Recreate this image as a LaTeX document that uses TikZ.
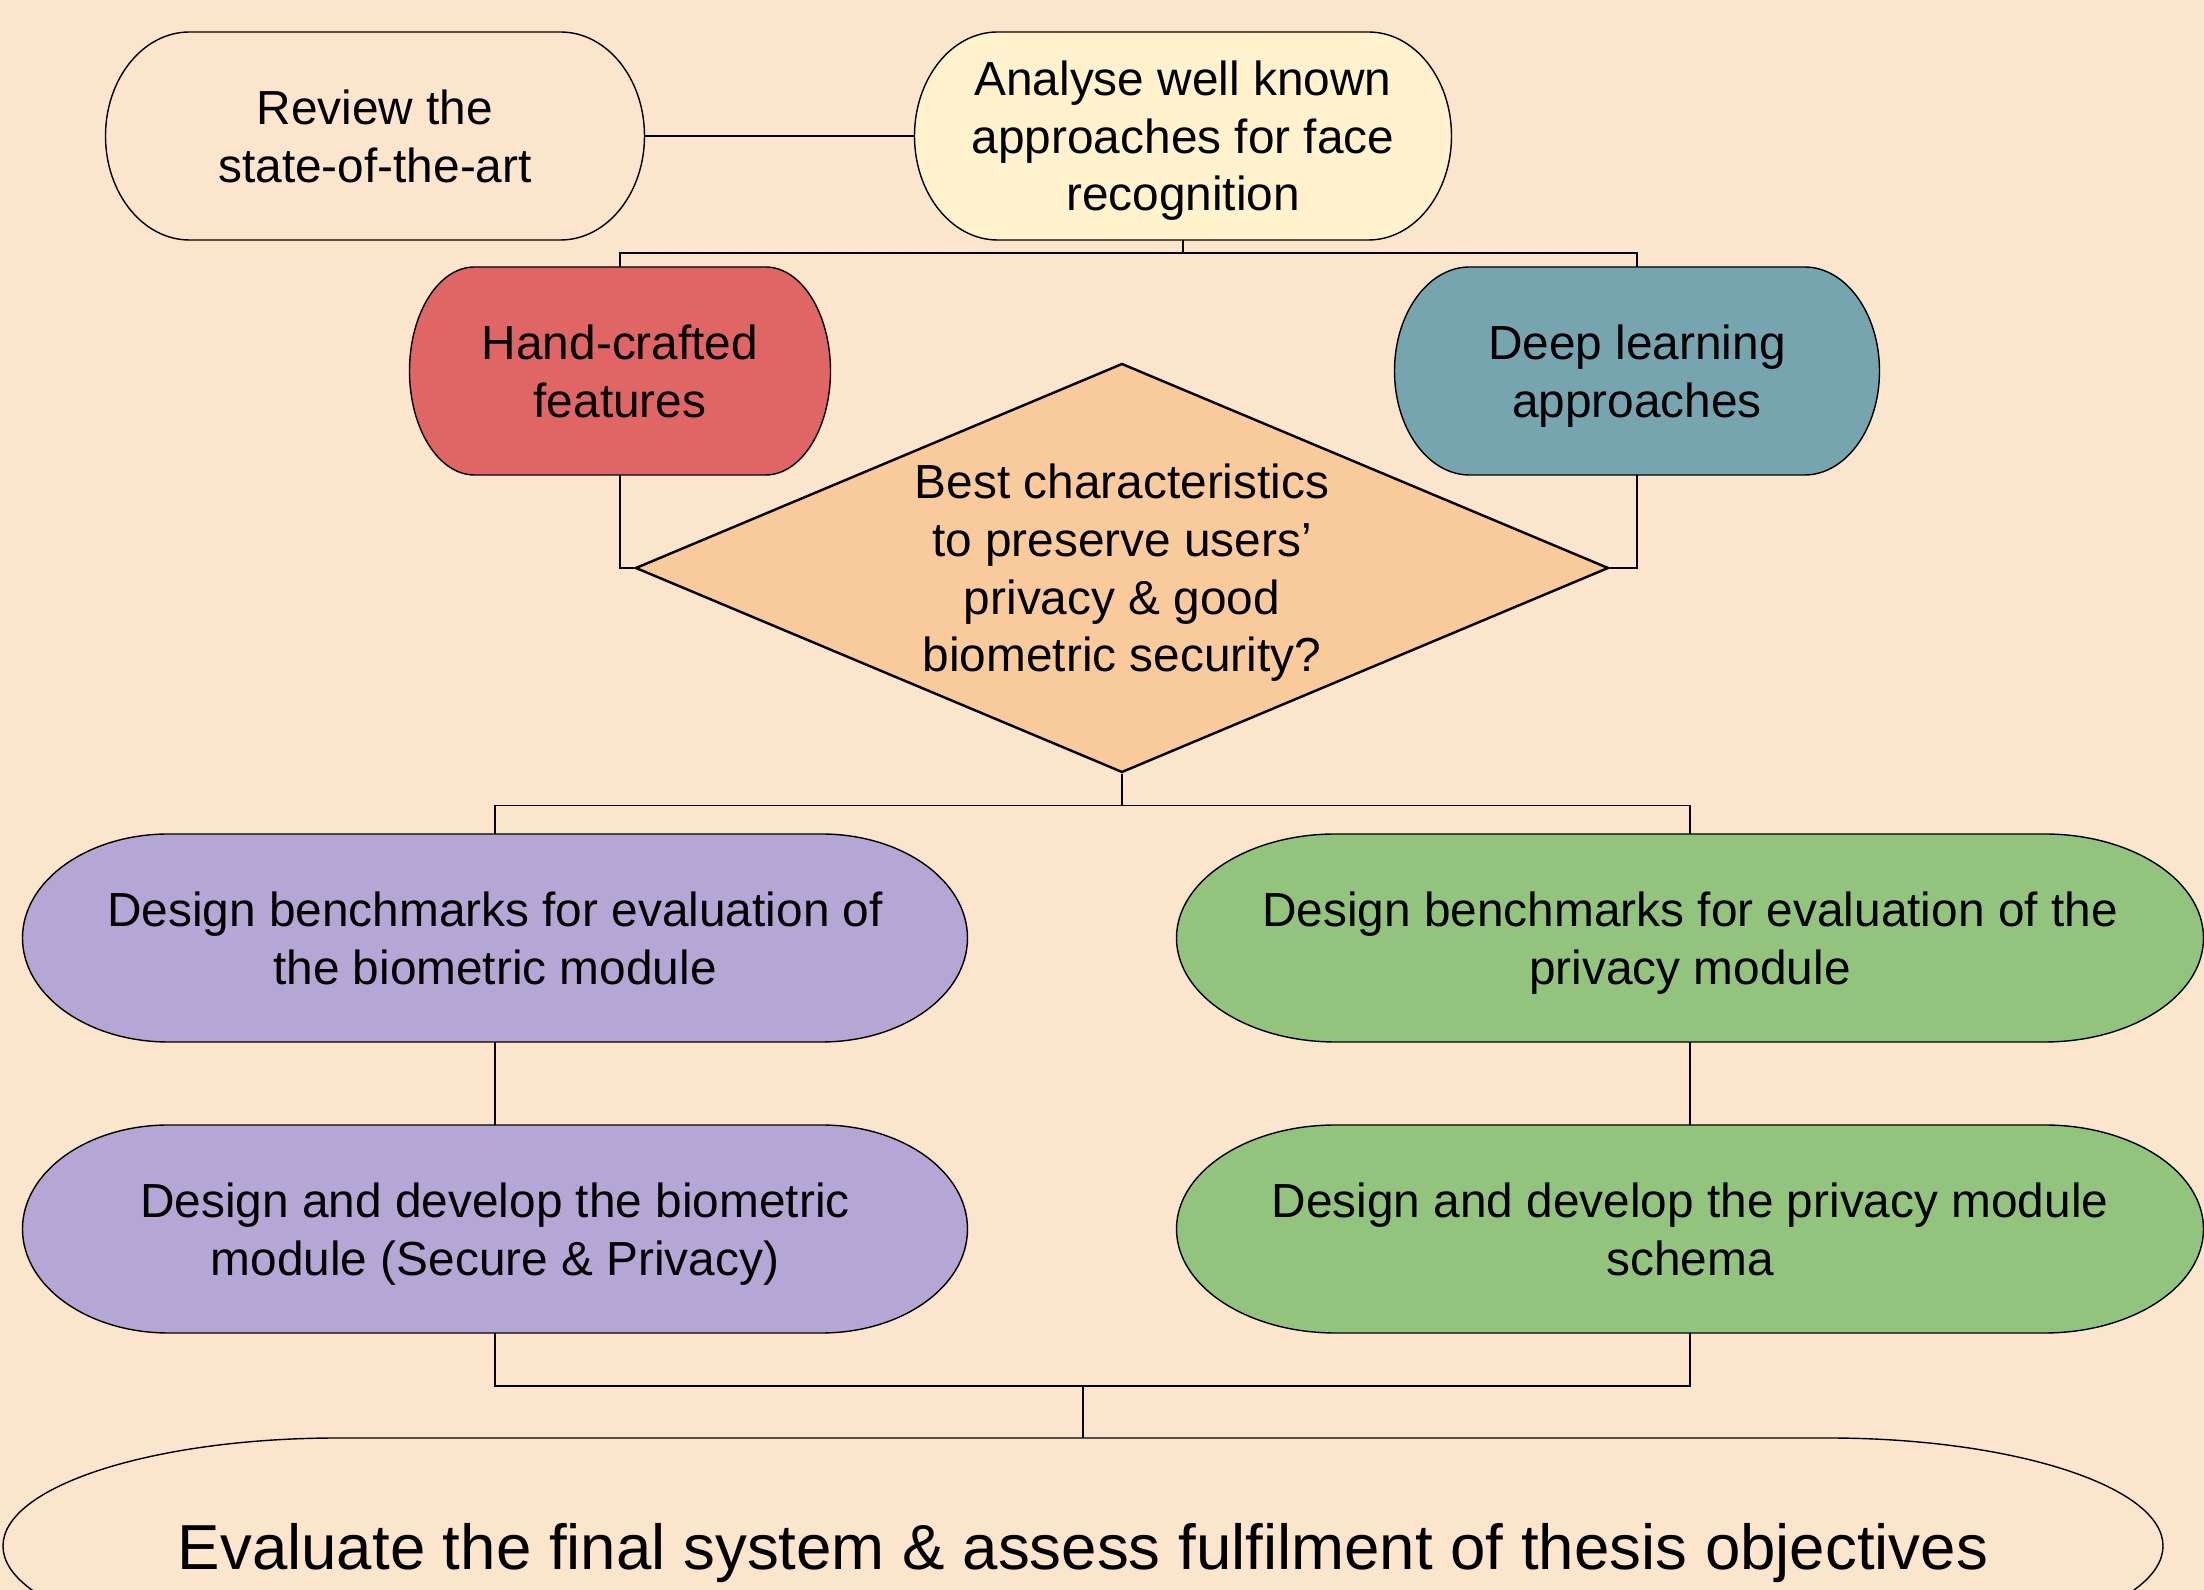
\documentclass[tikz,border=0pt]{standalone}
\usepackage{fontspec}
\setmainfont{Liberation Sans}
\usepackage{tikz}
\usetikzlibrary{shapes.geometric,backgrounds}
\definecolor{bgpeach}{HTML}{FCE5CD}
\definecolor{paleyellow}{HTML}{FFF2CC}
\definecolor{handred}{HTML}{E06666}
\definecolor{deepteal}{HTML}{76A5AF}
\definecolor{askorange}{HTML}{F9CB9C}
\definecolor{biopurple}{HTML}{B4A7D6}
\definecolor{privgreen}{HTML}{93C47D}
\tikzstyle{stage}=[rectangle,inner sep=0pt,outer sep=0pt,text depth=0pt,minimum height=2.08cm,align=center,font=\fontsize{13.6}{16.4}\selectfont]
\tikzstyle{question}=[diamond,draw=black,fill=askorange,inner sep=0pt,text depth=0pt,aspect=2.38,minimum width=9.73cm,minimum height=4.09cm,align=center,font=\fontsize{13.6}{16.4}\selectfont]
% outline of a terminator: node, end radius, half height, fill
\newcommand{\terminal}[4]{%
  \draw[fill=#4] ([xshift=#2]#1.north west) -- ([xshift=-#2]#1.north east)
    arc[start angle=90, end angle=-90, x radius=#2, y radius=#3]
    -- ([xshift=#2]#1.south west)
    arc[start angle=270, end angle=90, x radius=#2, y radius=#3] -- cycle;}
\begin{document}
\begin{tikzpicture}[line width=0.7pt]
    \useasboundingbox (0,0) rectangle (22.04,15.90);

    \node[stage, minimum width=5.39cm]  (review)    at (3.75,14.54)  {Review the\\state-of-the-art};
    \node[stage, minimum width=5.37cm]  (analyse)   at (11.83,14.54) {Analyse well known\\approaches for face\\recognition};
    \node[stage, minimum width=4.21cm]  (hand)      at (6.20,12.19)  {Hand-crafted\\features};
    \node[stage, minimum width=4.85cm]  (deep)      at (16.37,12.19) {Deep learning\\approaches};
    \node[question]                     (best)      at (11.22,10.22) {Best characteristics\\to preserve users’\\privacy \& good\\biometric security?};
    \node[stage, minimum width=9.45cm]  (benchbio)  at (4.95,6.52)   {Design benchmarks for evaluation of\\the biometric module};
    \node[stage, minimum width=10.27cm] (benchpriv) at (16.90,6.52)  {Design benchmarks for evaluation of the\\privacy module};
    \node[stage, minimum width=9.45cm]  (devbio)    at (4.95,3.61)   {Design and develop the biometric\\module (Secure \& Privacy)};
    \node[stage, minimum width=10.27cm] (devpriv)   at (16.90,3.61)  {Design and develop the privacy module\\schema};
    \node[stage, minimum width=21.60cm, minimum height=2.16cm,
          font=\fontsize{18.1}{21.7}\selectfont] (final) at (10.83,0.44)
          {Evaluate the final system \& assess fulfilment of thesis objectives};

    \begin{pgfonlayer}{background}
        \fill[bgpeach] (0,0) rectangle (22.04,15.90);
        \terminal{review}{0.84cm}{1.04cm}{bgpeach}
        \terminal{analyse}{0.83cm}{1.04cm}{paleyellow}
        \terminal{hand}{0.65cm}{1.04cm}{handred}
        \terminal{deep}{0.75cm}{1.04cm}{deepteal}
        \terminal{benchbio}{1.46cm}{1.04cm}{biopurple}
        \terminal{benchpriv}{1.59cm}{1.04cm}{privgreen}
        \terminal{devbio}{1.46cm}{1.04cm}{biopurple}
        \terminal{devpriv}{1.59cm}{1.04cm}{privgreen}
        \terminal{final}{3.35cm}{1.08cm}{bgpeach}
    \end{pgfonlayer}

    \draw (review.east) -- (analyse.west);
    \draw (analyse.south) -- ++(0,-0.13) -| (hand.north);
    \draw (analyse.south) -- ++(0,-0.13) -| (deep.north);
    \draw (hand.south) |- (best.west);
    \draw (deep.south) |- (best.east);
    \draw (best.south) -- ++(0,-0.32) -| (benchbio.north);
    \draw (best.south) -- ++(0,-0.32) -| (benchpriv.north);
    \draw (benchbio.south) -- (devbio.north);
    \draw (benchpriv.south) -- (devpriv.north);
    \draw (devbio.south) -- ++(0,-0.53) -| (final.north);
    \draw (devpriv.south) -- ++(0,-0.53) -| (final.north);
\end{tikzpicture}
\end{document}
